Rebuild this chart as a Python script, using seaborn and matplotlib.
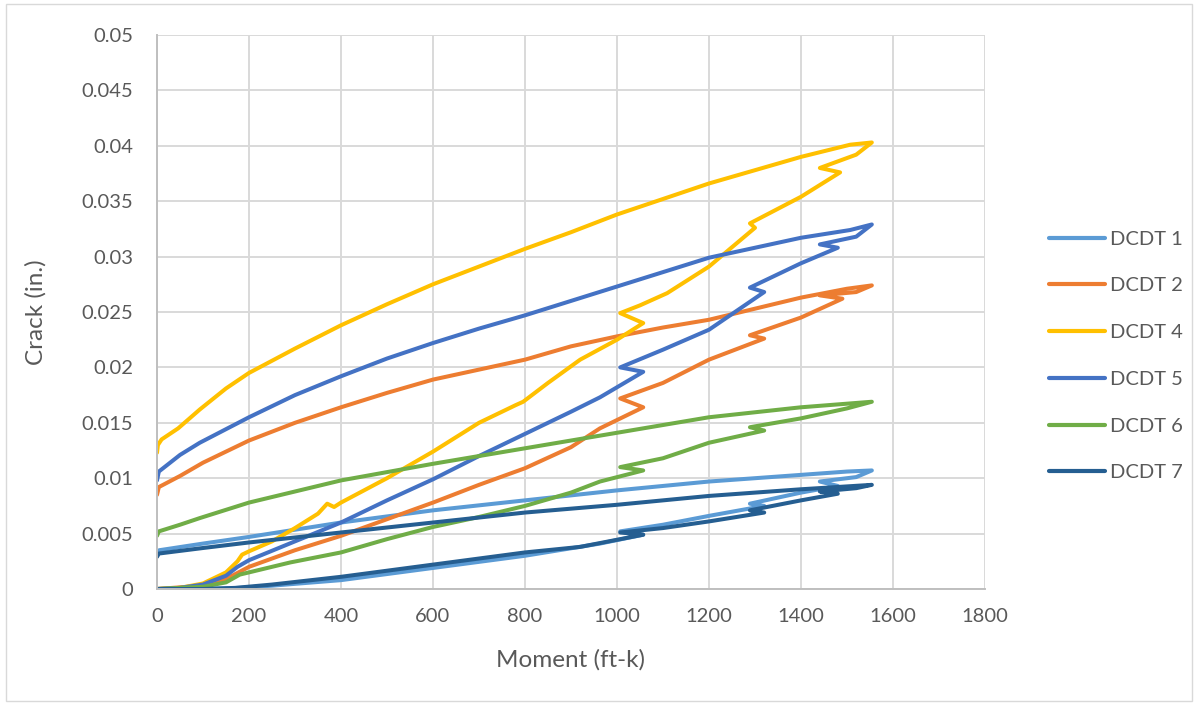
import matplotlib
matplotlib.use("Agg")
import matplotlib.pyplot as plt
from matplotlib.lines import Line2D
from matplotlib.patches import Rectangle
import numpy as np
import pandas as pd
import seaborn as sns

# ---------------- data ----------------
series_names = ["DCDT 1", "DCDT 2", "DCDT 4", "DCDT 5", "DCDT 6", "DCDT 7"]
series_colors = ["#5B9BD5", "#ED7D31", "#FFC000", "#4472C4", "#70AD47", "#255E91"]

# each series: loading path (increasing moment) then unloading path back to zero
dcdt1_x = [0, 100, 180, 250, 400, 600, 800, 963, 1057, 1007, 1100, 1200, 1280, 1320, 1289,
           1400, 1480, 1441, 1520, 1554,
           1500, 1400, 1300, 1200, 1000, 800, 600, 400, 200, 100, 5, 0]
dcdt1_y = [0, 0, 0.0001, 0.0003, 0.0008, 0.0019, 0.0030, 0.0041, 0.0049, 0.0052, 0.0058, 0.0066, 0.0072, 0.0075, 0.0077,
           0.0087, 0.0093, 0.0097, 0.0101, 0.0107,
           0.0106, 0.0103, 0.0100, 0.0097, 0.0089, 0.0080, 0.0071, 0.0060, 0.0047, 0.0041, 0.0035, 0.0032]

dcdt2_x = [0, 100, 150, 200, 300, 400, 500, 600, 700, 800, 900, 963, 1057, 1007, 1100, 1200, 1320, 1289,
           1400, 1490, 1441, 1520, 1554,
           1500, 1400, 1300, 1200, 1100, 1000, 900, 800, 700, 600, 500, 400, 300, 200, 100, 50, 4, 0]
dcdt2_y = [0, 0.0003, 0.0009, 0.0020, 0.0035, 0.0048, 0.0063, 0.0078, 0.0094, 0.0109, 0.0128, 0.0145, 0.0164, 0.0172, 0.0186, 0.0207, 0.0226, 0.0229,
           0.0245, 0.0262, 0.0265, 0.0268, 0.0274,
           0.0271, 0.0263, 0.0253, 0.0243, 0.0236, 0.0228, 0.0219, 0.0207, 0.0198, 0.0189, 0.0177, 0.0164, 0.0150, 0.0134, 0.0114, 0.0102, 0.0092, 0.0085]

dcdt4_x = [0, 50, 100, 150, 175, 185, 200, 250, 300, 350, 370, 385, 400, 500, 600, 700, 780, 796, 850, 920, 1000, 1057, 1007,
           1050, 1109, 1200, 1300, 1289, 1400, 1485, 1441, 1520, 1554,
           1507, 1400, 1300, 1200, 1100, 1000, 900, 800, 700, 600, 500, 400, 300, 200, 150, 93, 46, 10, 2, 0]
dcdt4_y = [0, 0.0001, 0.0005, 0.0015, 0.0025, 0.0031, 0.0034, 0.0043, 0.0055, 0.0068, 0.0077, 0.0074, 0.0078, 0.0100, 0.0124, 0.0150, 0.0166, 0.0169, 0.0186, 0.0207, 0.0225, 0.0240, 0.0249,
           0.0256, 0.0267, 0.0291, 0.0326, 0.0330, 0.0354, 0.0376, 0.0380, 0.0392, 0.0403,
           0.0401, 0.0390, 0.0378, 0.0366, 0.0352, 0.0338, 0.0322, 0.0307, 0.0291, 0.0275, 0.0257, 0.0238, 0.0217, 0.0195, 0.0181, 0.0162, 0.0145, 0.0135, 0.0130, 0.0123]

dcdt5_x = [0, 50, 100, 150, 175, 200, 300, 400, 500, 600, 700, 800, 900, 963, 1057, 1007, 1100, 1200, 1320, 1289,
           1400, 1480, 1441, 1520, 1554,
           1507, 1400, 1300, 1200, 1100, 1000, 900, 800, 700, 600, 500, 400, 300, 200, 93, 50, 4, 0]
dcdt5_y = [0, 0.0001, 0.0004, 0.0012, 0.0020, 0.0026, 0.0043, 0.0060, 0.0080, 0.0099, 0.0120, 0.0140, 0.0160, 0.0173, 0.0196, 0.0200, 0.0216, 0.0234, 0.0268, 0.0272,
           0.0294, 0.0308, 0.0311, 0.0318, 0.0329,
           0.0324, 0.0317, 0.0308, 0.0299, 0.0286, 0.0273, 0.0260, 0.0247, 0.0235, 0.0222, 0.0208, 0.0192, 0.0175, 0.0155, 0.0132, 0.0121, 0.0106, 0.0098]

dcdt6_x = [0, 100, 150, 180, 200, 290, 400, 500, 600, 700, 800, 900, 963, 1057, 1007, 1100, 1200, 1320, 1289,
           1400, 1500, 1554,
           1400, 1200, 1000, 800, 600, 400, 200, 93, 50, 4, 0]
dcdt6_y = [0, 0.0002, 0.0006, 0.0013, 0.0015, 0.0024, 0.0033, 0.0045, 0.0056, 0.0065, 0.0075, 0.0087, 0.0097, 0.0107, 0.0110, 0.0118, 0.0132, 0.0143, 0.0146,
           0.0154, 0.0163, 0.0169,
           0.0164, 0.0155, 0.0141, 0.0127, 0.0113, 0.0098, 0.0078, 0.0064, 0.0058, 0.0052, 0.0048]

dcdt7_x = [0, 100, 170, 250, 400, 600, 800, 920, 1057, 1007, 1100, 1200, 1320, 1289, 1400, 1480, 1441, 1520, 1554,
           1400, 1200, 1000, 800, 600, 400, 200, 100, 4, 0]
dcdt7_y = [0, 0, 0.0001, 0.0004, 0.0011, 0.0022, 0.0033, 0.0038, 0.0049, 0.0051, 0.0055, 0.0061, 0.0069, 0.0071, 0.0080, 0.0086, 0.0088, 0.0091, 0.0094,
           0.0090, 0.0084, 0.0076, 0.0069, 0.0060, 0.0051, 0.0042, 0.0037, 0.0032, 0.0029]

x_ticks = [0, 200, 400, 600, 800, 1000, 1200, 1400, 1600, 1800]
x_ticklabels = ["0", "200", "400", "600", "800", "1000", "1200", "1400", "1600", "1800"]
y_ticks = [0, 0.005, 0.01, 0.015, 0.02, 0.025, 0.03, 0.035, 0.04, 0.045, 0.05]
y_ticklabels = ["0", "0.005", "0.01", "0.015", "0.02", "0.025", "0.03", "0.035", "0.04", "0.045", "0.05"]

x_title = "Moment (ft-k)"
y_title = "Crack (in.)"

# ---------------- build long table ----------------
all_x = [dcdt1_x, dcdt2_x, dcdt4_x, dcdt5_x, dcdt6_x, dcdt7_x]
all_y = [dcdt1_y, dcdt2_y, dcdt4_y, dcdt5_y, dcdt6_y, dcdt7_y]
frames = []
for name, xs, ys in zip(series_names, all_x, all_y):
    frames.append(pd.DataFrame({"Moment": xs, "Crack": ys, "Sensor": name,
                                "idx": np.arange(len(xs))}))
df = pd.concat(frames, ignore_index=True)

# ---------------- plot ----------------
sns.set_theme(style="white")
plt.rcParams["font.family"] = ["Lato", "DejaVu Sans"]
text_color = "#595959"
grid_color = "#D9D9D9"

fig = plt.figure(figsize=(11.98, 7.05), dpi=100)
ax = fig.add_axes([157 / 1198, (705 - 589) / 705, 828 / 1198, 554 / 705])

sns.lineplot(data=df, x="Moment", y="Crack", hue="Sensor", hue_order=series_names,
             palette=dict(zip(series_names, series_colors)), sort=False,
             estimator=None, units="Sensor", linewidth=2.9, legend=False, ax=ax,
             solid_joinstyle="round", solid_capstyle="round")

ax.set_xlim(0, 1800)
ax.set_ylim(0, 0.05)
ax.set_xticks(x_ticks)
ax.set_xticklabels(x_ticklabels)
ax.set_yticks(y_ticks)
ax.set_yticklabels(y_ticklabels)
ax.set_xticks(np.arange(0, 1801, 40), minor=True)
ax.set_yticks(np.arange(0, 0.0501, 0.001), minor=True)

ax.grid(True, which="major", color=grid_color, linewidth=1.4)
ax.set_axisbelow(True)
for s in ["top", "right"]:
    ax.spines[s].set_visible(False)
for s in ["left", "bottom"]:
    ax.spines[s].set_color("#BFBFBF")
    ax.spines[s].set_linewidth(1.4)

ax.tick_params(axis="both", which="major", length=0, labelsize=14.5, labelcolor=text_color)
ax.tick_params(axis="y", which="major", pad=17)
ax.tick_params(axis="x", which="major", pad=14)
ax.tick_params(axis="both", which="minor", direction="in", length=4, width=1, color="#BFBFBF")

ax.set_xlabel(x_title, fontsize=17.5, color=text_color)
ax.set_ylabel(y_title, fontsize=17.5, color=text_color)
ax.xaxis.label.set_va("center")
ax.yaxis.label.set_va("center")
ax.xaxis.set_label_coords(0.5, (589 - 660) / 554)
ax.yaxis.set_label_coords((36 - 157) / 828, 0.5)

handles = [Line2D([0], [0], color=c, lw=3.0, solid_capstyle="round") for c in series_colors]
ax.legend(handles, series_names, loc="center left",
          bbox_to_anchor=(1049 / 1198, 1 - 356 / 705), bbox_transform=fig.transFigure,
          frameon=False, borderpad=0, borderaxespad=0, handlelength=2.8,
          handletextpad=0.25, labelspacing=1.47, fontsize=14.5, labelcolor=text_color)

fig.patches.append(Rectangle((6 / 1198, 4 / 705), 1186 / 1198, 697 / 705,
                             transform=fig.transFigure, fill=False,
                             edgecolor=grid_color, linewidth=1.0))

fig.savefig("out.png", dpi=100)
